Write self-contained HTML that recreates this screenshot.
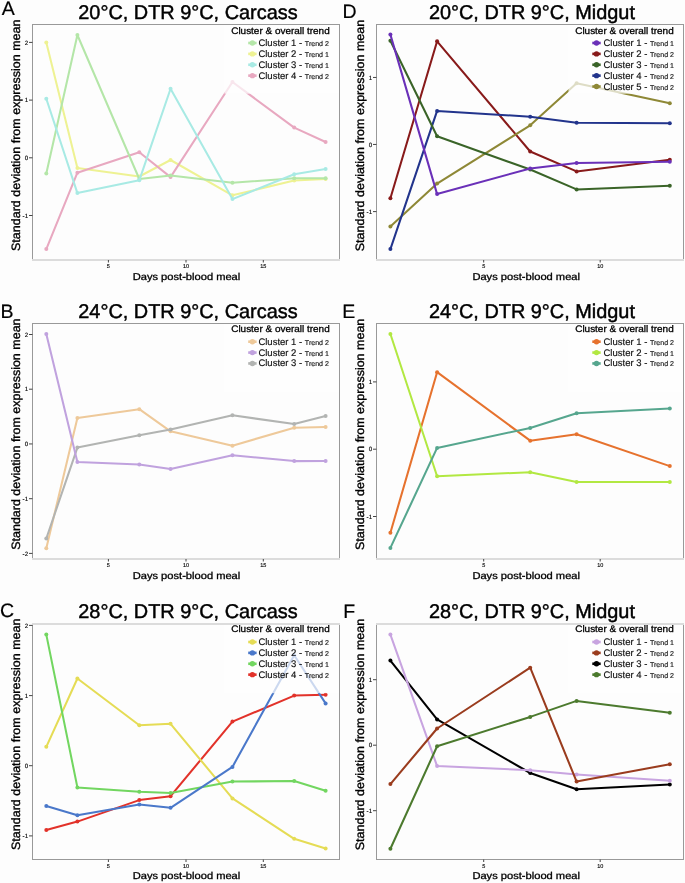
<!DOCTYPE html>
<html><head><meta charset="utf-8"><style>
html,body{margin:0;padding:0;background:#fdfdfd;}
body{width:685px;height:883px;overflow:hidden;}
svg{display:block;will-change:transform;text-rendering:geometricPrecision;font-family:"Liberation Sans", sans-serif;}
</style></head><body>
<svg width="685" height="883" viewBox="0 0 685 883">
<rect width="685" height="883" fill="#fdfdfd"/>
<text x="1.7" y="14.7" font-size="19.5" stroke="#000" stroke-width="0.2" font-family="'Liberation Sans', sans-serif">A</text>
<text x="78.3" y="18.8" font-size="19.9" stroke="#000" stroke-width="0.45" font-family="'Liberation Sans', sans-serif">20°C, DTR 9°C, Carcass</text>
<polyline points="46.3,42.6 77.4,168.1 139.3,176.5 170.55,160 232.45,195.3 294.2,180.6 325.6,179" fill="none" stroke="#eef293" stroke-width="2.05" stroke-linejoin="round"/>
<circle cx="46.3" cy="42.6" r="2.0" fill="#eef293"/>
<circle cx="77.4" cy="168.1" r="2.0" fill="#eef293"/>
<circle cx="139.3" cy="176.5" r="2.0" fill="#eef293"/>
<circle cx="170.55" cy="160" r="2.0" fill="#eef293"/>
<circle cx="232.45" cy="195.3" r="2.0" fill="#eef293"/>
<circle cx="294.2" cy="180.6" r="2.0" fill="#eef293"/>
<circle cx="325.6" cy="179" r="2.0" fill="#eef293"/>
<polyline points="46.3,249.1 77.4,172.7 139.3,152.3 170.55,177.1 232.45,82 294.2,127.6 325.6,142" fill="none" stroke="#e8a8c0" stroke-width="2.05" stroke-linejoin="round"/>
<circle cx="46.3" cy="249.1" r="2.0" fill="#e8a8c0"/>
<circle cx="77.4" cy="172.7" r="2.0" fill="#e8a8c0"/>
<circle cx="139.3" cy="152.3" r="2.0" fill="#e8a8c0"/>
<circle cx="170.55" cy="177.1" r="2.0" fill="#e8a8c0"/>
<circle cx="232.45" cy="82" r="2.0" fill="#e8a8c0"/>
<circle cx="294.2" cy="127.6" r="2.0" fill="#e8a8c0"/>
<circle cx="325.6" cy="142" r="2.0" fill="#e8a8c0"/>
<polyline points="46.3,173.5 77.4,35.0 139.3,179 170.55,175.4 232.45,182.8 294.2,178.2 325.6,178.2" fill="none" stroke="#b4e6a8" stroke-width="2.05" stroke-linejoin="round"/>
<circle cx="46.3" cy="173.5" r="2.0" fill="#b4e6a8"/>
<circle cx="77.4" cy="35.0" r="2.0" fill="#b4e6a8"/>
<circle cx="139.3" cy="179" r="2.0" fill="#b4e6a8"/>
<circle cx="170.55" cy="175.4" r="2.0" fill="#b4e6a8"/>
<circle cx="232.45" cy="182.8" r="2.0" fill="#b4e6a8"/>
<circle cx="294.2" cy="178.2" r="2.0" fill="#b4e6a8"/>
<circle cx="325.6" cy="178.2" r="2.0" fill="#b4e6a8"/>
<polyline points="46.3,98.8 77.4,193.1 139.3,180.3 170.55,88.75 232.45,199.1 294.2,174.3 325.6,168.9" fill="none" stroke="#a8eae4" stroke-width="2.05" stroke-linejoin="round"/>
<circle cx="46.3" cy="98.8" r="2.0" fill="#a8eae4"/>
<circle cx="77.4" cy="193.1" r="2.0" fill="#a8eae4"/>
<circle cx="139.3" cy="180.3" r="2.0" fill="#a8eae4"/>
<circle cx="170.55" cy="88.75" r="2.0" fill="#a8eae4"/>
<circle cx="232.45" cy="199.1" r="2.0" fill="#a8eae4"/>
<circle cx="294.2" cy="174.3" r="2.0" fill="#a8eae4"/>
<circle cx="325.6" cy="168.9" r="2.0" fill="#a8eae4"/>
<rect x="224.5" y="24.5" width="114.5" height="69.2" fill="#fdfdfd" fill-opacity="0.72"/>
<line x1="32.5" y1="24.0" x2="32.5" y2="260.5" stroke="#999999" stroke-width="1"/>
<line x1="339.5" y1="24.0" x2="339.5" y2="260.5" stroke="#999999" stroke-width="1"/>
<line x1="32.0" y1="24.5" x2="340.0" y2="24.5" stroke="#999999" stroke-width="1"/>
<rect x="32.0" y="259.0" width="308.0" height="2" fill="#dcdcdc" shape-rendering="crispEdges"/>
<line x1="29.0" y1="42.4" x2="32.5" y2="42.4" stroke="#444" stroke-width="1"/>
<text transform="translate(28.1,44.6) scale(0.25)" x="0" y="0" font-size="24.8" text-anchor="end" fill="#000" stroke="#000" stroke-width="0.5" font-family="'Liberation Sans', sans-serif">2</text>
<line x1="29.0" y1="100.1" x2="32.5" y2="100.1" stroke="#444" stroke-width="1"/>
<text transform="translate(28.1,102.3) scale(0.25)" x="0" y="0" font-size="24.8" text-anchor="end" fill="#000" stroke="#000" stroke-width="0.5" font-family="'Liberation Sans', sans-serif">1</text>
<line x1="29.0" y1="157.8" x2="32.5" y2="157.8" stroke="#444" stroke-width="1"/>
<text transform="translate(28.1,160.0) scale(0.25)" x="0" y="0" font-size="24.8" text-anchor="end" fill="#000" stroke="#000" stroke-width="0.5" font-family="'Liberation Sans', sans-serif">0</text>
<line x1="29.0" y1="215.5" x2="32.5" y2="215.5" stroke="#444" stroke-width="1"/>
<text transform="translate(28.1,217.7) scale(0.25)" x="0" y="0" font-size="24.8" text-anchor="end" fill="#000" stroke="#000" stroke-width="0.5" font-family="'Liberation Sans', sans-serif">-1</text>
<line x1="108.4" y1="260.0" x2="108.4" y2="262.5" stroke="#444" stroke-width="1"/>
<text transform="translate(108.4,268.0) scale(0.25)" x="0" y="0" font-size="22" text-anchor="middle" fill="#000" stroke="#000" stroke-width="0.5" font-family="'Liberation Sans', sans-serif">5</text>
<line x1="186.0" y1="260.0" x2="186.0" y2="262.5" stroke="#444" stroke-width="1"/>
<text transform="translate(186.0,268.0) scale(0.25)" x="0" y="0" font-size="22" text-anchor="middle" fill="#000" stroke="#000" stroke-width="0.5" font-family="'Liberation Sans', sans-serif">10</text>
<line x1="263.3" y1="260.0" x2="263.3" y2="262.5" stroke="#444" stroke-width="1"/>
<text transform="translate(263.3,268.0) scale(0.25)" x="0" y="0" font-size="22" text-anchor="middle" fill="#000" stroke="#000" stroke-width="0.5" font-family="'Liberation Sans', sans-serif">15</text>
<text transform="translate(19.8,135.3) rotate(-90)" x="0" y="0" font-size="12.1" stroke="#000" stroke-width="0.35" text-anchor="middle" textLength="231.4" lengthAdjust="spacingAndGlyphs" font-family="'Liberation Sans', sans-serif">Standard deviation from expression mean</text>
<text x="132.7" y="279.8" font-size="9.9" textLength="107.6" lengthAdjust="spacingAndGlyphs" fill="#000" stroke="#000" stroke-width="0.3" font-family="'Liberation Sans', sans-serif">Days post-blood meal</text>
<text x="231.2" y="33.6" font-size="9.5" fill="#000" stroke="#000" stroke-width="0.3" textLength="98.5" lengthAdjust="spacingAndGlyphs" font-family="'Liberation Sans', sans-serif">Cluster &amp; overall trend</text>
<line x1="248.20000000000002" y1="43.0" x2="256.6" y2="43.0" stroke="#b4e6a8" stroke-width="2.6"/>
<circle cx="252.4" cy="43.0" r="2.7" fill="#b4e6a8"/>
<text x="258.4" y="46.00" font-size="9.5" fill="#111" stroke="#111" stroke-width="0.15" font-family="'Liberation Sans', sans-serif">Cluster 1 - <tspan font-size="7.05">Trend 2</tspan></text>
<line x1="248.20000000000002" y1="53.88" x2="256.6" y2="53.88" stroke="#eef293" stroke-width="2.6"/>
<circle cx="252.4" cy="53.88" r="2.7" fill="#eef293"/>
<text x="258.4" y="56.88" font-size="9.5" fill="#111" stroke="#111" stroke-width="0.15" font-family="'Liberation Sans', sans-serif">Cluster 2 - <tspan font-size="7.05">Trend 1</tspan></text>
<line x1="248.20000000000002" y1="64.76" x2="256.6" y2="64.76" stroke="#a8eae4" stroke-width="2.6"/>
<circle cx="252.4" cy="64.76" r="2.7" fill="#a8eae4"/>
<text x="258.4" y="67.76" font-size="9.5" fill="#111" stroke="#111" stroke-width="0.15" font-family="'Liberation Sans', sans-serif">Cluster 3 - <tspan font-size="7.05">Trend 1</tspan></text>
<line x1="248.20000000000002" y1="75.64" x2="256.6" y2="75.64" stroke="#e8a8c0" stroke-width="2.6"/>
<circle cx="252.4" cy="75.64" r="2.7" fill="#e8a8c0"/>
<text x="258.4" y="78.64" font-size="9.5" fill="#111" stroke="#111" stroke-width="0.15" font-family="'Liberation Sans', sans-serif">Cluster 4 - <tspan font-size="7.05">Trend 2</tspan></text>
<text x="0.6" y="317.7" font-size="19.5" stroke="#000" stroke-width="0.2" font-family="'Liberation Sans', sans-serif">B</text>
<text x="78.3" y="318.4" font-size="19.9" stroke="#000" stroke-width="0.45" font-family="'Liberation Sans', sans-serif">24°C, DTR 9°C, Carcass</text>
<polyline points="46.3,548.2 77.4,418 139.3,409.2 170.55,431.3 232.45,445.7 294.2,427.7 325.6,426.9" fill="none" stroke="#eec99a" stroke-width="2.05" stroke-linejoin="round"/>
<circle cx="46.3" cy="548.2" r="2.0" fill="#eec99a"/>
<circle cx="77.4" cy="418" r="2.0" fill="#eec99a"/>
<circle cx="139.3" cy="409.2" r="2.0" fill="#eec99a"/>
<circle cx="170.55" cy="431.3" r="2.0" fill="#eec99a"/>
<circle cx="232.45" cy="445.7" r="2.0" fill="#eec99a"/>
<circle cx="294.2" cy="427.7" r="2.0" fill="#eec99a"/>
<circle cx="325.6" cy="426.9" r="2.0" fill="#eec99a"/>
<polyline points="46.3,538.5 77.4,447.6 139.3,435.2 170.55,429.4 232.45,415.3 294.2,424.1 325.6,416.1" fill="none" stroke="#b2b4b2" stroke-width="2.05" stroke-linejoin="round"/>
<circle cx="46.3" cy="538.5" r="2.0" fill="#b2b4b2"/>
<circle cx="77.4" cy="447.6" r="2.0" fill="#b2b4b2"/>
<circle cx="139.3" cy="435.2" r="2.0" fill="#b2b4b2"/>
<circle cx="170.55" cy="429.4" r="2.0" fill="#b2b4b2"/>
<circle cx="232.45" cy="415.3" r="2.0" fill="#b2b4b2"/>
<circle cx="294.2" cy="424.1" r="2.0" fill="#b2b4b2"/>
<circle cx="325.6" cy="416.1" r="2.0" fill="#b2b4b2"/>
<polyline points="46.3,334 77.4,462 139.3,464.5 170.55,469.1 232.45,455.3 294.2,461.1 325.6,460.9" fill="none" stroke="#c0a2de" stroke-width="2.05" stroke-linejoin="round"/>
<circle cx="46.3" cy="334" r="2.0" fill="#c0a2de"/>
<circle cx="77.4" cy="462" r="2.0" fill="#c0a2de"/>
<circle cx="139.3" cy="464.5" r="2.0" fill="#c0a2de"/>
<circle cx="170.55" cy="469.1" r="2.0" fill="#c0a2de"/>
<circle cx="232.45" cy="455.3" r="2.0" fill="#c0a2de"/>
<circle cx="294.2" cy="461.1" r="2.0" fill="#c0a2de"/>
<circle cx="325.6" cy="460.9" r="2.0" fill="#c0a2de"/>
<rect x="224.5" y="323.5" width="114.5" height="69.2" fill="#fdfdfd" fill-opacity="0.72"/>
<line x1="32.5" y1="323.0" x2="32.5" y2="559.5" stroke="#999999" stroke-width="1"/>
<line x1="339.5" y1="323.0" x2="339.5" y2="559.5" stroke="#999999" stroke-width="1"/>
<line x1="32.0" y1="323.5" x2="340.0" y2="323.5" stroke="#999999" stroke-width="1"/>
<rect x="32.0" y="558.0" width="308.0" height="2" fill="#dcdcdc" shape-rendering="crispEdges"/>
<line x1="29.0" y1="334.5" x2="32.5" y2="334.5" stroke="#444" stroke-width="1"/>
<text transform="translate(28.1,336.7) scale(0.25)" x="0" y="0" font-size="24.8" text-anchor="end" fill="#000" stroke="#000" stroke-width="0.5" font-family="'Liberation Sans', sans-serif">2</text>
<line x1="29.0" y1="389.2" x2="32.5" y2="389.2" stroke="#444" stroke-width="1"/>
<text transform="translate(28.1,391.4) scale(0.25)" x="0" y="0" font-size="24.8" text-anchor="end" fill="#000" stroke="#000" stroke-width="0.5" font-family="'Liberation Sans', sans-serif">1</text>
<line x1="29.0" y1="443.95" x2="32.5" y2="443.95" stroke="#444" stroke-width="1"/>
<text transform="translate(28.1,446.15) scale(0.25)" x="0" y="0" font-size="24.8" text-anchor="end" fill="#000" stroke="#000" stroke-width="0.5" font-family="'Liberation Sans', sans-serif">0</text>
<line x1="29.0" y1="498.7" x2="32.5" y2="498.7" stroke="#444" stroke-width="1"/>
<text transform="translate(28.1,500.9) scale(0.25)" x="0" y="0" font-size="24.8" text-anchor="end" fill="#000" stroke="#000" stroke-width="0.5" font-family="'Liberation Sans', sans-serif">-1</text>
<line x1="29.0" y1="553.4" x2="32.5" y2="553.4" stroke="#444" stroke-width="1"/>
<text transform="translate(28.1,555.6) scale(0.25)" x="0" y="0" font-size="24.8" text-anchor="end" fill="#000" stroke="#000" stroke-width="0.5" font-family="'Liberation Sans', sans-serif">-2</text>
<line x1="108.4" y1="559.0" x2="108.4" y2="561.5" stroke="#444" stroke-width="1"/>
<text transform="translate(108.4,567.0) scale(0.25)" x="0" y="0" font-size="22" text-anchor="middle" fill="#000" stroke="#000" stroke-width="0.5" font-family="'Liberation Sans', sans-serif">5</text>
<line x1="186.0" y1="559.0" x2="186.0" y2="561.5" stroke="#444" stroke-width="1"/>
<text transform="translate(186.0,567.0) scale(0.25)" x="0" y="0" font-size="22" text-anchor="middle" fill="#000" stroke="#000" stroke-width="0.5" font-family="'Liberation Sans', sans-serif">10</text>
<line x1="263.3" y1="559.0" x2="263.3" y2="561.5" stroke="#444" stroke-width="1"/>
<text transform="translate(263.3,567.0) scale(0.25)" x="0" y="0" font-size="22" text-anchor="middle" fill="#000" stroke="#000" stroke-width="0.5" font-family="'Liberation Sans', sans-serif">15</text>
<text transform="translate(19.8,434.15) rotate(-90)" x="0" y="0" font-size="12.1" stroke="#000" stroke-width="0.35" text-anchor="middle" textLength="231.4" lengthAdjust="spacingAndGlyphs" font-family="'Liberation Sans', sans-serif">Standard deviation from expression mean</text>
<text x="132.7" y="578.8" font-size="9.9" textLength="107.6" lengthAdjust="spacingAndGlyphs" fill="#000" stroke="#000" stroke-width="0.3" font-family="'Liberation Sans', sans-serif">Days post-blood meal</text>
<text x="231.2" y="331.9" font-size="9.5" fill="#000" stroke="#000" stroke-width="0.3" textLength="98.5" lengthAdjust="spacingAndGlyphs" font-family="'Liberation Sans', sans-serif">Cluster &amp; overall trend</text>
<line x1="248.20000000000002" y1="341.7" x2="256.6" y2="341.7" stroke="#eec99a" stroke-width="2.6"/>
<circle cx="252.4" cy="341.7" r="2.7" fill="#eec99a"/>
<text x="258.4" y="344.70" font-size="9.5" fill="#111" stroke="#111" stroke-width="0.15" font-family="'Liberation Sans', sans-serif">Cluster 1 - <tspan font-size="7.05">Trend 2</tspan></text>
<line x1="248.20000000000002" y1="352.58" x2="256.6" y2="352.58" stroke="#c0a2de" stroke-width="2.6"/>
<circle cx="252.4" cy="352.58" r="2.7" fill="#c0a2de"/>
<text x="258.4" y="355.58" font-size="9.5" fill="#111" stroke="#111" stroke-width="0.15" font-family="'Liberation Sans', sans-serif">Cluster 2 - <tspan font-size="7.05">Trend 1</tspan></text>
<line x1="248.20000000000002" y1="363.46" x2="256.6" y2="363.46" stroke="#b2b4b2" stroke-width="2.6"/>
<circle cx="252.4" cy="363.46" r="2.7" fill="#b2b4b2"/>
<text x="258.4" y="366.46" font-size="9.5" fill="#111" stroke="#111" stroke-width="0.15" font-family="'Liberation Sans', sans-serif">Cluster 3 - <tspan font-size="7.05">Trend 2</tspan></text>
<text x="0.1" y="617.0" font-size="19.5" stroke="#000" stroke-width="0.2" font-family="'Liberation Sans', sans-serif">C</text>
<text x="78.3" y="618.3" font-size="19.9" stroke="#000" stroke-width="0.45" font-family="'Liberation Sans', sans-serif">28°C, DTR 9°C, Carcass</text>
<polyline points="46.3,830 77.4,821.6 139.3,800.1 170.55,796.2 232.45,721.6 294.2,695.6 325.6,694.8" fill="none" stroke="#e2322a" stroke-width="2.05" stroke-linejoin="round"/>
<circle cx="46.3" cy="830" r="2.0" fill="#e2322a"/>
<circle cx="77.4" cy="821.6" r="2.0" fill="#e2322a"/>
<circle cx="139.3" cy="800.1" r="2.0" fill="#e2322a"/>
<circle cx="170.55" cy="796.2" r="2.0" fill="#e2322a"/>
<circle cx="232.45" cy="721.6" r="2.0" fill="#e2322a"/>
<circle cx="294.2" cy="695.6" r="2.0" fill="#e2322a"/>
<circle cx="325.6" cy="694.8" r="2.0" fill="#e2322a"/>
<polyline points="46.3,746.8 77.4,678.5 139.3,725.2 170.55,723.8 232.45,798.4 294.2,838.8 325.6,848.5" fill="none" stroke="#e5dc55" stroke-width="2.05" stroke-linejoin="round"/>
<circle cx="46.3" cy="746.8" r="2.0" fill="#e5dc55"/>
<circle cx="77.4" cy="678.5" r="2.0" fill="#e5dc55"/>
<circle cx="139.3" cy="725.2" r="2.0" fill="#e5dc55"/>
<circle cx="170.55" cy="723.8" r="2.0" fill="#e5dc55"/>
<circle cx="232.45" cy="798.4" r="2.0" fill="#e5dc55"/>
<circle cx="294.2" cy="838.8" r="2.0" fill="#e5dc55"/>
<circle cx="325.6" cy="848.5" r="2.0" fill="#e5dc55"/>
<polyline points="46.3,634.6 77.4,787.4 139.3,791.8 170.55,792.9 232.45,781.6 294.2,781 325.6,790.7" fill="none" stroke="#72d660" stroke-width="2.05" stroke-linejoin="round"/>
<circle cx="46.3" cy="634.6" r="2.0" fill="#72d660"/>
<circle cx="77.4" cy="787.4" r="2.0" fill="#72d660"/>
<circle cx="139.3" cy="791.8" r="2.0" fill="#72d660"/>
<circle cx="170.55" cy="792.9" r="2.0" fill="#72d660"/>
<circle cx="232.45" cy="781.6" r="2.0" fill="#72d660"/>
<circle cx="294.2" cy="781" r="2.0" fill="#72d660"/>
<circle cx="325.6" cy="790.7" r="2.0" fill="#72d660"/>
<polyline points="46.3,805.9 77.4,815.3 139.3,804.5 170.55,807.8 232.45,766.9 294.2,655.3 325.6,703.4" fill="none" stroke="#4a78ca" stroke-width="2.05" stroke-linejoin="round"/>
<circle cx="46.3" cy="805.9" r="2.0" fill="#4a78ca"/>
<circle cx="77.4" cy="815.3" r="2.0" fill="#4a78ca"/>
<circle cx="139.3" cy="804.5" r="2.0" fill="#4a78ca"/>
<circle cx="170.55" cy="807.8" r="2.0" fill="#4a78ca"/>
<circle cx="232.45" cy="766.9" r="2.0" fill="#4a78ca"/>
<circle cx="294.2" cy="655.3" r="2.0" fill="#4a78ca"/>
<circle cx="325.6" cy="703.4" r="2.0" fill="#4a78ca"/>
<rect x="224.5" y="624.0" width="114.5" height="69.2" fill="#fdfdfd" fill-opacity="0.72"/>
<line x1="32.5" y1="623.5" x2="32.5" y2="860.0" stroke="#999999" stroke-width="1"/>
<line x1="339.5" y1="623.5" x2="339.5" y2="860.0" stroke="#999999" stroke-width="1"/>
<rect x="32.0" y="623.0" width="308.0" height="2" fill="#dcdcdc" shape-rendering="crispEdges"/>
<line x1="32.0" y1="859.5" x2="340.0" y2="859.5" stroke="#999999" stroke-width="1"/>
<line x1="29.0" y1="625.4" x2="32.5" y2="625.4" stroke="#444" stroke-width="1"/>
<text transform="translate(28.1,627.6) scale(0.25)" x="0" y="0" font-size="24.8" text-anchor="end" fill="#000" stroke="#000" stroke-width="0.5" font-family="'Liberation Sans', sans-serif">2</text>
<line x1="29.0" y1="695.6" x2="32.5" y2="695.6" stroke="#444" stroke-width="1"/>
<text transform="translate(28.1,697.8000000000001) scale(0.25)" x="0" y="0" font-size="24.8" text-anchor="end" fill="#000" stroke="#000" stroke-width="0.5" font-family="'Liberation Sans', sans-serif">1</text>
<line x1="29.0" y1="765.7" x2="32.5" y2="765.7" stroke="#444" stroke-width="1"/>
<text transform="translate(28.1,767.9000000000001) scale(0.25)" x="0" y="0" font-size="24.8" text-anchor="end" fill="#000" stroke="#000" stroke-width="0.5" font-family="'Liberation Sans', sans-serif">0</text>
<line x1="29.0" y1="835.9" x2="32.5" y2="835.9" stroke="#444" stroke-width="1"/>
<text transform="translate(28.1,838.1) scale(0.25)" x="0" y="0" font-size="24.8" text-anchor="end" fill="#000" stroke="#000" stroke-width="0.5" font-family="'Liberation Sans', sans-serif">-1</text>
<line x1="108.4" y1="859.5" x2="108.4" y2="862.0" stroke="#444" stroke-width="1"/>
<text transform="translate(108.4,867.5) scale(0.25)" x="0" y="0" font-size="22" text-anchor="middle" fill="#000" stroke="#000" stroke-width="0.5" font-family="'Liberation Sans', sans-serif">5</text>
<line x1="186.0" y1="859.5" x2="186.0" y2="862.0" stroke="#444" stroke-width="1"/>
<text transform="translate(186.0,867.5) scale(0.25)" x="0" y="0" font-size="22" text-anchor="middle" fill="#000" stroke="#000" stroke-width="0.5" font-family="'Liberation Sans', sans-serif">10</text>
<line x1="263.3" y1="859.5" x2="263.3" y2="862.0" stroke="#444" stroke-width="1"/>
<text transform="translate(263.3,867.5) scale(0.25)" x="0" y="0" font-size="22" text-anchor="middle" fill="#000" stroke="#000" stroke-width="0.5" font-family="'Liberation Sans', sans-serif">15</text>
<text transform="translate(19.8,734.3) rotate(-90)" x="0" y="0" font-size="12.1" stroke="#000" stroke-width="0.35" text-anchor="middle" textLength="231.4" lengthAdjust="spacingAndGlyphs" font-family="'Liberation Sans', sans-serif">Standard deviation from expression mean</text>
<text x="132.7" y="878.9" font-size="9.9" textLength="107.6" lengthAdjust="spacingAndGlyphs" fill="#000" stroke="#000" stroke-width="0.3" font-family="'Liberation Sans', sans-serif">Days post-blood meal</text>
<text x="231.2" y="632.1" font-size="9.5" fill="#000" stroke="#000" stroke-width="0.3" textLength="98.5" lengthAdjust="spacingAndGlyphs" font-family="'Liberation Sans', sans-serif">Cluster &amp; overall trend</text>
<line x1="248.20000000000002" y1="642.0" x2="256.6" y2="642.0" stroke="#e5dc55" stroke-width="2.6"/>
<circle cx="252.4" cy="642.0" r="2.7" fill="#e5dc55"/>
<text x="258.4" y="645.00" font-size="9.5" fill="#111" stroke="#111" stroke-width="0.15" font-family="'Liberation Sans', sans-serif">Cluster 1 - <tspan font-size="7.05">Trend 2</tspan></text>
<line x1="248.20000000000002" y1="652.88" x2="256.6" y2="652.88" stroke="#4a78ca" stroke-width="2.6"/>
<circle cx="252.4" cy="652.88" r="2.7" fill="#4a78ca"/>
<text x="258.4" y="655.88" font-size="9.5" fill="#111" stroke="#111" stroke-width="0.15" font-family="'Liberation Sans', sans-serif">Cluster 2 - <tspan font-size="7.05">Trend 2</tspan></text>
<line x1="248.20000000000002" y1="663.76" x2="256.6" y2="663.76" stroke="#72d660" stroke-width="2.6"/>
<circle cx="252.4" cy="663.76" r="2.7" fill="#72d660"/>
<text x="258.4" y="666.76" font-size="9.5" fill="#111" stroke="#111" stroke-width="0.15" font-family="'Liberation Sans', sans-serif">Cluster 3 - <tspan font-size="7.05">Trend 1</tspan></text>
<line x1="248.20000000000002" y1="674.64" x2="256.6" y2="674.64" stroke="#e2322a" stroke-width="2.6"/>
<circle cx="252.4" cy="674.64" r="2.7" fill="#e2322a"/>
<text x="258.4" y="677.64" font-size="9.5" fill="#111" stroke="#111" stroke-width="0.15" font-family="'Liberation Sans', sans-serif">Cluster 4 - <tspan font-size="7.05">Trend 2</tspan></text>
<text x="342.4" y="17.7" font-size="19.5" stroke="#000" stroke-width="0.2" font-family="'Liberation Sans', sans-serif">D</text>
<text x="428.90000000000003" y="18.8" font-size="19.9" stroke="#000" stroke-width="0.45" font-family="'Liberation Sans', sans-serif">20°C, DTR 9°C, Midgut</text>
<polyline points="390.4,198.2 437.1,41.3 530.2,151.5 576.6,171.4 669.8,159.8" fill="none" stroke="#881a1a" stroke-width="2.05" stroke-linejoin="round"/>
<circle cx="390.4" cy="198.2" r="2.0" fill="#881a1a"/>
<circle cx="437.1" cy="41.3" r="2.0" fill="#881a1a"/>
<circle cx="530.2" cy="151.5" r="2.0" fill="#881a1a"/>
<circle cx="576.6" cy="171.4" r="2.0" fill="#881a1a"/>
<circle cx="669.8" cy="159.8" r="2.0" fill="#881a1a"/>
<polyline points="390.4,226.4 437.1,183.6 530.2,125.3 576.6,83.3 669.8,103.2" fill="none" stroke="#8e8836" stroke-width="2.05" stroke-linejoin="round"/>
<circle cx="390.4" cy="226.4" r="2.0" fill="#8e8836"/>
<circle cx="437.1" cy="183.6" r="2.0" fill="#8e8836"/>
<circle cx="530.2" cy="125.3" r="2.0" fill="#8e8836"/>
<circle cx="576.6" cy="83.3" r="2.0" fill="#8e8836"/>
<circle cx="669.8" cy="103.2" r="2.0" fill="#8e8836"/>
<polyline points="390.4,249.1 437.1,110.9 530.2,116.7 576.6,122.8 669.8,123.3" fill="none" stroke="#22348c" stroke-width="2.05" stroke-linejoin="round"/>
<circle cx="390.4" cy="249.1" r="2.0" fill="#22348c"/>
<circle cx="437.1" cy="110.9" r="2.0" fill="#22348c"/>
<circle cx="530.2" cy="116.7" r="2.0" fill="#22348c"/>
<circle cx="576.6" cy="122.8" r="2.0" fill="#22348c"/>
<circle cx="669.8" cy="123.3" r="2.0" fill="#22348c"/>
<polyline points="390.4,40.7 437.1,136.3 530.2,169.5 576.6,189.4 669.8,185.8" fill="none" stroke="#3a6428" stroke-width="2.05" stroke-linejoin="round"/>
<circle cx="390.4" cy="40.7" r="2.0" fill="#3a6428"/>
<circle cx="437.1" cy="136.3" r="2.0" fill="#3a6428"/>
<circle cx="530.2" cy="169.5" r="2.0" fill="#3a6428"/>
<circle cx="576.6" cy="189.4" r="2.0" fill="#3a6428"/>
<circle cx="669.8" cy="185.8" r="2.0" fill="#3a6428"/>
<polyline points="390.4,34.6 437.1,194.1 530.2,168.4 576.6,163.1 669.8,161.8" fill="none" stroke="#6a30b8" stroke-width="2.05" stroke-linejoin="round"/>
<circle cx="390.4" cy="34.6" r="2.0" fill="#6a30b8"/>
<circle cx="437.1" cy="194.1" r="2.0" fill="#6a30b8"/>
<circle cx="530.2" cy="168.4" r="2.0" fill="#6a30b8"/>
<circle cx="576.6" cy="163.1" r="2.0" fill="#6a30b8"/>
<circle cx="669.8" cy="161.8" r="2.0" fill="#6a30b8"/>
<rect x="568.5" y="24.5" width="114.5" height="69.2" fill="#fdfdfd" fill-opacity="0.72"/>
<line x1="376.5" y1="24.0" x2="376.5" y2="260.5" stroke="#999999" stroke-width="1"/>
<line x1="683.5" y1="24.0" x2="683.5" y2="260.5" stroke="#999999" stroke-width="1"/>
<line x1="376.0" y1="24.5" x2="684.0" y2="24.5" stroke="#999999" stroke-width="1"/>
<rect x="376.0" y="259.0" width="308.0" height="2" fill="#dcdcdc" shape-rendering="crispEdges"/>
<line x1="373.0" y1="77.45" x2="376.5" y2="77.45" stroke="#444" stroke-width="1"/>
<text transform="translate(372.1,79.65) scale(0.25)" x="0" y="0" font-size="24.8" text-anchor="end" fill="#000" stroke="#000" stroke-width="0.5" font-family="'Liberation Sans', sans-serif">1</text>
<line x1="373.0" y1="144.45" x2="376.5" y2="144.45" stroke="#444" stroke-width="1"/>
<text transform="translate(372.1,146.64999999999998) scale(0.25)" x="0" y="0" font-size="24.8" text-anchor="end" fill="#000" stroke="#000" stroke-width="0.5" font-family="'Liberation Sans', sans-serif">0</text>
<line x1="373.0" y1="211.6" x2="376.5" y2="211.6" stroke="#444" stroke-width="1"/>
<text transform="translate(372.1,213.79999999999998) scale(0.25)" x="0" y="0" font-size="24.8" text-anchor="end" fill="#000" stroke="#000" stroke-width="0.5" font-family="'Liberation Sans', sans-serif">-1</text>
<line x1="483.7" y1="260.0" x2="483.7" y2="262.5" stroke="#444" stroke-width="1"/>
<text transform="translate(483.7,268.0) scale(0.25)" x="0" y="0" font-size="22" text-anchor="middle" fill="#000" stroke="#000" stroke-width="0.5" font-family="'Liberation Sans', sans-serif">5</text>
<line x1="600.2" y1="260.0" x2="600.2" y2="262.5" stroke="#444" stroke-width="1"/>
<text transform="translate(600.2,268.0) scale(0.25)" x="0" y="0" font-size="22" text-anchor="middle" fill="#000" stroke="#000" stroke-width="0.5" font-family="'Liberation Sans', sans-serif">10</text>
<text transform="translate(363.6,135.55) rotate(-90)" x="0" y="0" font-size="12.1" stroke="#000" stroke-width="0.35" text-anchor="middle" textLength="231.4" lengthAdjust="spacingAndGlyphs" font-family="'Liberation Sans', sans-serif">Standard deviation from expression mean</text>
<text x="472.4" y="279.8" font-size="9.9" textLength="107.6" lengthAdjust="spacingAndGlyphs" fill="#000" stroke="#000" stroke-width="0.3" font-family="'Liberation Sans', sans-serif">Days post-blood meal</text>
<text x="575.2" y="33.6" font-size="9.5" fill="#000" stroke="#000" stroke-width="0.3" textLength="98.5" lengthAdjust="spacingAndGlyphs" font-family="'Liberation Sans', sans-serif">Cluster &amp; overall trend</text>
<line x1="592.3" y1="43.0" x2="600.7" y2="43.0" stroke="#6a30b8" stroke-width="2.6"/>
<circle cx="596.5" cy="43.0" r="2.7" fill="#6a30b8"/>
<text x="603.5" y="46.00" font-size="9.5" fill="#111" stroke="#111" stroke-width="0.15" font-family="'Liberation Sans', sans-serif">Cluster 1 - <tspan font-size="7.05">Trend 1</tspan></text>
<line x1="592.3" y1="53.88" x2="600.7" y2="53.88" stroke="#881a1a" stroke-width="2.6"/>
<circle cx="596.5" cy="53.88" r="2.7" fill="#881a1a"/>
<text x="603.5" y="56.88" font-size="9.5" fill="#111" stroke="#111" stroke-width="0.15" font-family="'Liberation Sans', sans-serif">Cluster 2 - <tspan font-size="7.05">Trend 2</tspan></text>
<line x1="592.3" y1="64.76" x2="600.7" y2="64.76" stroke="#3a6428" stroke-width="2.6"/>
<circle cx="596.5" cy="64.76" r="2.7" fill="#3a6428"/>
<text x="603.5" y="67.76" font-size="9.5" fill="#111" stroke="#111" stroke-width="0.15" font-family="'Liberation Sans', sans-serif">Cluster 3 - <tspan font-size="7.05">Trend 1</tspan></text>
<line x1="592.3" y1="75.64" x2="600.7" y2="75.64" stroke="#22348c" stroke-width="2.6"/>
<circle cx="596.5" cy="75.64" r="2.7" fill="#22348c"/>
<text x="603.5" y="78.64" font-size="9.5" fill="#111" stroke="#111" stroke-width="0.15" font-family="'Liberation Sans', sans-serif">Cluster 4 - <tspan font-size="7.05">Trend 2</tspan></text>
<line x1="592.3" y1="86.52000000000001" x2="600.7" y2="86.52000000000001" stroke="#8e8836" stroke-width="2.6"/>
<circle cx="596.5" cy="86.52000000000001" r="2.7" fill="#8e8836"/>
<text x="603.5" y="89.52" font-size="9.5" fill="#111" stroke="#111" stroke-width="0.15" font-family="'Liberation Sans', sans-serif">Cluster 5 - <tspan font-size="7.05">Trend 2</tspan></text>
<text x="342.3" y="317.7" font-size="19.5" stroke="#000" stroke-width="0.2" font-family="'Liberation Sans', sans-serif">E</text>
<text x="428.90000000000003" y="318.4" font-size="19.9" stroke="#000" stroke-width="0.45" font-family="'Liberation Sans', sans-serif">24°C, DTR 9°C, Midgut</text>
<polyline points="390.4,532.7 437.1,372.2 530.2,440.7 576.6,434.3 669.8,466.1" fill="none" stroke="#e6722e" stroke-width="2.05" stroke-linejoin="round"/>
<circle cx="390.4" cy="532.7" r="2.0" fill="#e6722e"/>
<circle cx="437.1" cy="372.2" r="2.0" fill="#e6722e"/>
<circle cx="530.2" cy="440.7" r="2.0" fill="#e6722e"/>
<circle cx="576.6" cy="434.3" r="2.0" fill="#e6722e"/>
<circle cx="669.8" cy="466.1" r="2.0" fill="#e6722e"/>
<polyline points="390.4,334 437.1,476.3 530.2,472.2 576.6,481.9 669.8,481.9" fill="none" stroke="#b2e842" stroke-width="2.05" stroke-linejoin="round"/>
<circle cx="390.4" cy="334" r="2.0" fill="#b2e842"/>
<circle cx="437.1" cy="476.3" r="2.0" fill="#b2e842"/>
<circle cx="530.2" cy="472.2" r="2.0" fill="#b2e842"/>
<circle cx="576.6" cy="481.9" r="2.0" fill="#b2e842"/>
<circle cx="669.8" cy="481.9" r="2.0" fill="#b2e842"/>
<polyline points="390.4,547.9 437.1,447.9 530.2,428 576.6,413.3 669.8,408.4" fill="none" stroke="#56a68e" stroke-width="2.05" stroke-linejoin="round"/>
<circle cx="390.4" cy="547.9" r="2.0" fill="#56a68e"/>
<circle cx="437.1" cy="447.9" r="2.0" fill="#56a68e"/>
<circle cx="530.2" cy="428" r="2.0" fill="#56a68e"/>
<circle cx="576.6" cy="413.3" r="2.0" fill="#56a68e"/>
<circle cx="669.8" cy="408.4" r="2.0" fill="#56a68e"/>
<rect x="568.5" y="323.5" width="114.5" height="69.2" fill="#fdfdfd" fill-opacity="0.72"/>
<line x1="376.5" y1="323.0" x2="376.5" y2="559.5" stroke="#999999" stroke-width="1"/>
<line x1="683.5" y1="323.0" x2="683.5" y2="559.5" stroke="#999999" stroke-width="1"/>
<line x1="376.0" y1="323.5" x2="684.0" y2="323.5" stroke="#999999" stroke-width="1"/>
<rect x="376.0" y="558.0" width="308.0" height="2" fill="#dcdcdc" shape-rendering="crispEdges"/>
<line x1="373.0" y1="381.9" x2="376.5" y2="381.9" stroke="#444" stroke-width="1"/>
<text transform="translate(372.1,384.09999999999997) scale(0.25)" x="0" y="0" font-size="24.8" text-anchor="end" fill="#000" stroke="#000" stroke-width="0.5" font-family="'Liberation Sans', sans-serif">1</text>
<line x1="373.0" y1="449.2" x2="376.5" y2="449.2" stroke="#444" stroke-width="1"/>
<text transform="translate(372.1,451.4) scale(0.25)" x="0" y="0" font-size="24.8" text-anchor="end" fill="#000" stroke="#000" stroke-width="0.5" font-family="'Liberation Sans', sans-serif">0</text>
<line x1="373.0" y1="516.5" x2="376.5" y2="516.5" stroke="#444" stroke-width="1"/>
<text transform="translate(372.1,518.7) scale(0.25)" x="0" y="0" font-size="24.8" text-anchor="end" fill="#000" stroke="#000" stroke-width="0.5" font-family="'Liberation Sans', sans-serif">-1</text>
<line x1="483.7" y1="559.0" x2="483.7" y2="561.5" stroke="#444" stroke-width="1"/>
<text transform="translate(483.7,567.0) scale(0.25)" x="0" y="0" font-size="22" text-anchor="middle" fill="#000" stroke="#000" stroke-width="0.5" font-family="'Liberation Sans', sans-serif">5</text>
<line x1="600.2" y1="559.0" x2="600.2" y2="561.5" stroke="#444" stroke-width="1"/>
<text transform="translate(600.2,567.0) scale(0.25)" x="0" y="0" font-size="22" text-anchor="middle" fill="#000" stroke="#000" stroke-width="0.5" font-family="'Liberation Sans', sans-serif">10</text>
<text transform="translate(363.6,434.4) rotate(-90)" x="0" y="0" font-size="12.1" stroke="#000" stroke-width="0.35" text-anchor="middle" textLength="231.4" lengthAdjust="spacingAndGlyphs" font-family="'Liberation Sans', sans-serif">Standard deviation from expression mean</text>
<text x="472.4" y="578.8" font-size="9.9" textLength="107.6" lengthAdjust="spacingAndGlyphs" fill="#000" stroke="#000" stroke-width="0.3" font-family="'Liberation Sans', sans-serif">Days post-blood meal</text>
<text x="575.2" y="331.9" font-size="9.5" fill="#000" stroke="#000" stroke-width="0.3" textLength="98.5" lengthAdjust="spacingAndGlyphs" font-family="'Liberation Sans', sans-serif">Cluster &amp; overall trend</text>
<line x1="592.3" y1="341.7" x2="600.7" y2="341.7" stroke="#e6722e" stroke-width="2.6"/>
<circle cx="596.5" cy="341.7" r="2.7" fill="#e6722e"/>
<text x="603.5" y="344.70" font-size="9.5" fill="#111" stroke="#111" stroke-width="0.15" font-family="'Liberation Sans', sans-serif">Cluster 1 - <tspan font-size="7.05">Trend 2</tspan></text>
<line x1="592.3" y1="352.58" x2="600.7" y2="352.58" stroke="#b2e842" stroke-width="2.6"/>
<circle cx="596.5" cy="352.58" r="2.7" fill="#b2e842"/>
<text x="603.5" y="355.58" font-size="9.5" fill="#111" stroke="#111" stroke-width="0.15" font-family="'Liberation Sans', sans-serif">Cluster 2 - <tspan font-size="7.05">Trend 1</tspan></text>
<line x1="592.3" y1="363.46" x2="600.7" y2="363.46" stroke="#56a68e" stroke-width="2.6"/>
<circle cx="596.5" cy="363.46" r="2.7" fill="#56a68e"/>
<text x="603.5" y="366.46" font-size="9.5" fill="#111" stroke="#111" stroke-width="0.15" font-family="'Liberation Sans', sans-serif">Cluster 3 - <tspan font-size="7.05">Trend 2</tspan></text>
<text x="343.2" y="617.5" font-size="19.5" stroke="#000" stroke-width="0.2" font-family="'Liberation Sans', sans-serif">F</text>
<text x="428.90000000000003" y="618.3" font-size="19.9" stroke="#000" stroke-width="0.45" font-family="'Liberation Sans', sans-serif">28°C, DTR 9°C, Midgut</text>
<polyline points="390.4,660.6 437.1,719.4 530.2,773 576.6,789.3 669.8,784.6" fill="none" stroke="#000000" stroke-width="2.05" stroke-linejoin="round"/>
<circle cx="390.4" cy="660.6" r="2.0" fill="#000000"/>
<circle cx="437.1" cy="719.4" r="2.0" fill="#000000"/>
<circle cx="530.2" cy="773" r="2.0" fill="#000000"/>
<circle cx="576.6" cy="789.3" r="2.0" fill="#000000"/>
<circle cx="669.8" cy="784.6" r="2.0" fill="#000000"/>
<polyline points="390.4,634.6 437.1,766.1 530.2,770.2 576.6,774.4 669.8,780.8" fill="none" stroke="#c8a4e0" stroke-width="2.05" stroke-linejoin="round"/>
<circle cx="390.4" cy="634.6" r="2.0" fill="#c8a4e0"/>
<circle cx="437.1" cy="766.1" r="2.0" fill="#c8a4e0"/>
<circle cx="530.2" cy="770.2" r="2.0" fill="#c8a4e0"/>
<circle cx="576.6" cy="774.4" r="2.0" fill="#c8a4e0"/>
<circle cx="669.8" cy="780.8" r="2.0" fill="#c8a4e0"/>
<polyline points="390.4,784.1 437.1,728.5 530.2,667.7 576.6,781.6 669.8,764.2" fill="none" stroke="#9a3c1e" stroke-width="2.05" stroke-linejoin="round"/>
<circle cx="390.4" cy="784.1" r="2.0" fill="#9a3c1e"/>
<circle cx="437.1" cy="728.5" r="2.0" fill="#9a3c1e"/>
<circle cx="530.2" cy="667.7" r="2.0" fill="#9a3c1e"/>
<circle cx="576.6" cy="781.6" r="2.0" fill="#9a3c1e"/>
<circle cx="669.8" cy="764.2" r="2.0" fill="#9a3c1e"/>
<polyline points="390.4,848.7 437.1,746.2 530.2,716.9 576.6,700.9 669.8,712.8" fill="none" stroke="#4c7a2e" stroke-width="2.05" stroke-linejoin="round"/>
<circle cx="390.4" cy="848.7" r="2.0" fill="#4c7a2e"/>
<circle cx="437.1" cy="746.2" r="2.0" fill="#4c7a2e"/>
<circle cx="530.2" cy="716.9" r="2.0" fill="#4c7a2e"/>
<circle cx="576.6" cy="700.9" r="2.0" fill="#4c7a2e"/>
<circle cx="669.8" cy="712.8" r="2.0" fill="#4c7a2e"/>
<rect x="568.5" y="624.0" width="114.5" height="69.2" fill="#fdfdfd" fill-opacity="0.72"/>
<line x1="376.5" y1="623.5" x2="376.5" y2="860.0" stroke="#999999" stroke-width="1"/>
<line x1="683.5" y1="623.5" x2="683.5" y2="860.0" stroke="#999999" stroke-width="1"/>
<rect x="376.0" y="623.0" width="308.0" height="2" fill="#dcdcdc" shape-rendering="crispEdges"/>
<line x1="376.0" y1="859.5" x2="684.0" y2="859.5" stroke="#999999" stroke-width="1"/>
<line x1="373.0" y1="679.7" x2="376.5" y2="679.7" stroke="#444" stroke-width="1"/>
<text transform="translate(372.1,681.9000000000001) scale(0.25)" x="0" y="0" font-size="24.8" text-anchor="end" fill="#000" stroke="#000" stroke-width="0.5" font-family="'Liberation Sans', sans-serif">1</text>
<line x1="373.0" y1="745.2" x2="376.5" y2="745.2" stroke="#444" stroke-width="1"/>
<text transform="translate(372.1,747.4000000000001) scale(0.25)" x="0" y="0" font-size="24.8" text-anchor="end" fill="#000" stroke="#000" stroke-width="0.5" font-family="'Liberation Sans', sans-serif">0</text>
<line x1="373.0" y1="810.7" x2="376.5" y2="810.7" stroke="#444" stroke-width="1"/>
<text transform="translate(372.1,812.9000000000001) scale(0.25)" x="0" y="0" font-size="24.8" text-anchor="end" fill="#000" stroke="#000" stroke-width="0.5" font-family="'Liberation Sans', sans-serif">-1</text>
<line x1="483.7" y1="859.5" x2="483.7" y2="862.0" stroke="#444" stroke-width="1"/>
<text transform="translate(483.7,867.5) scale(0.25)" x="0" y="0" font-size="22" text-anchor="middle" fill="#000" stroke="#000" stroke-width="0.5" font-family="'Liberation Sans', sans-serif">5</text>
<line x1="600.2" y1="859.5" x2="600.2" y2="862.0" stroke="#444" stroke-width="1"/>
<text transform="translate(600.2,867.5) scale(0.25)" x="0" y="0" font-size="22" text-anchor="middle" fill="#000" stroke="#000" stroke-width="0.5" font-family="'Liberation Sans', sans-serif">10</text>
<text transform="translate(363.6,734.55) rotate(-90)" x="0" y="0" font-size="12.1" stroke="#000" stroke-width="0.35" text-anchor="middle" textLength="231.4" lengthAdjust="spacingAndGlyphs" font-family="'Liberation Sans', sans-serif">Standard deviation from expression mean</text>
<text x="472.4" y="878.9" font-size="9.9" textLength="107.6" lengthAdjust="spacingAndGlyphs" fill="#000" stroke="#000" stroke-width="0.3" font-family="'Liberation Sans', sans-serif">Days post-blood meal</text>
<text x="575.2" y="632.1" font-size="9.5" fill="#000" stroke="#000" stroke-width="0.3" textLength="98.5" lengthAdjust="spacingAndGlyphs" font-family="'Liberation Sans', sans-serif">Cluster &amp; overall trend</text>
<line x1="592.3" y1="642.0" x2="600.7" y2="642.0" stroke="#c8a4e0" stroke-width="2.6"/>
<circle cx="596.5" cy="642.0" r="2.7" fill="#c8a4e0"/>
<text x="603.5" y="645.00" font-size="9.5" fill="#111" stroke="#111" stroke-width="0.15" font-family="'Liberation Sans', sans-serif">Cluster 1 - <tspan font-size="7.05">Trend 1</tspan></text>
<line x1="592.3" y1="652.88" x2="600.7" y2="652.88" stroke="#9a3c1e" stroke-width="2.6"/>
<circle cx="596.5" cy="652.88" r="2.7" fill="#9a3c1e"/>
<text x="603.5" y="655.88" font-size="9.5" fill="#111" stroke="#111" stroke-width="0.15" font-family="'Liberation Sans', sans-serif">Cluster 2 - <tspan font-size="7.05">Trend 2</tspan></text>
<line x1="592.3" y1="663.76" x2="600.7" y2="663.76" stroke="#000000" stroke-width="2.6"/>
<circle cx="596.5" cy="663.76" r="2.7" fill="#000000"/>
<text x="603.5" y="666.76" font-size="9.5" fill="#111" stroke="#111" stroke-width="0.15" font-family="'Liberation Sans', sans-serif">Cluster 3 - <tspan font-size="7.05">Trend 1</tspan></text>
<line x1="592.3" y1="674.64" x2="600.7" y2="674.64" stroke="#4c7a2e" stroke-width="2.6"/>
<circle cx="596.5" cy="674.64" r="2.7" fill="#4c7a2e"/>
<text x="603.5" y="677.64" font-size="9.5" fill="#111" stroke="#111" stroke-width="0.15" font-family="'Liberation Sans', sans-serif">Cluster 4 - <tspan font-size="7.05">Trend 2</tspan></text>
</svg>
</body></html>
